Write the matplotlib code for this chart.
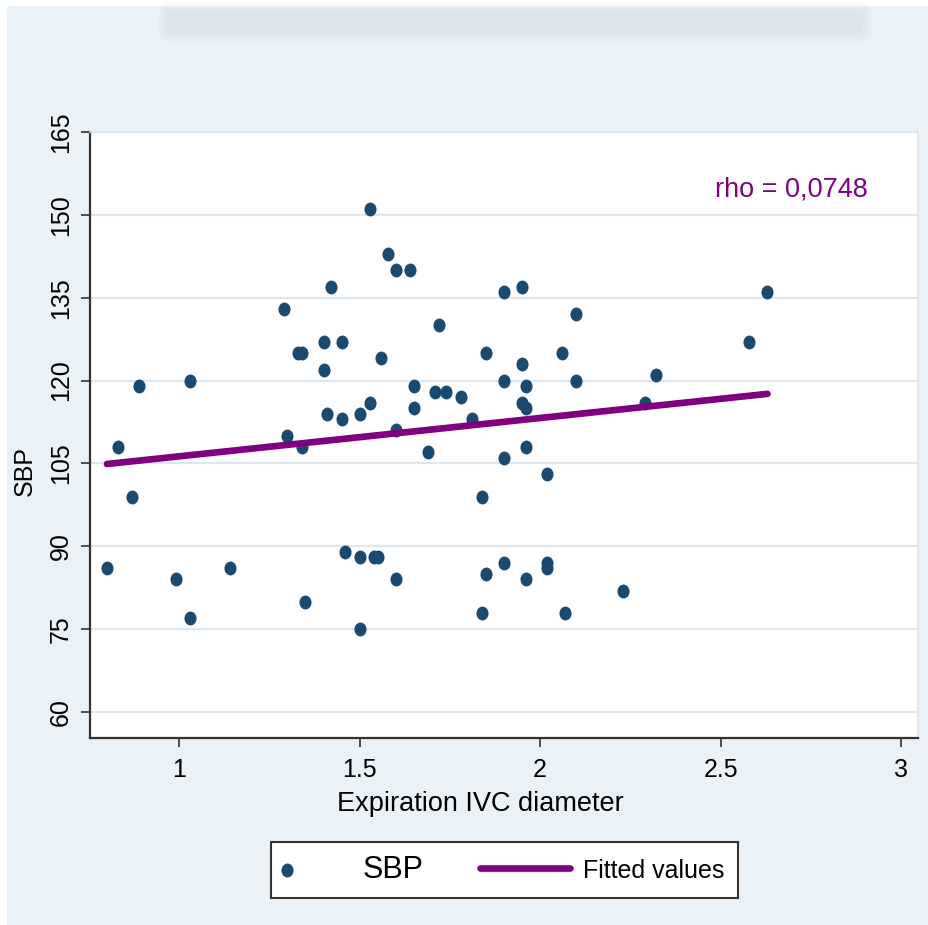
import matplotlib
matplotlib.use("Agg")
import matplotlib.pyplot as plt
from matplotlib.path import Path
from matplotlib.patches import Rectangle, FancyBboxPatch
from matplotlib.legend_handler import HandlerPathCollection, HandlerLine2D
import numpy as np

# values
ivc_diam = [0.80, 0.83, 0.87, 0.89, 0.99, 1.03, 1.03, 1.14, 1.29, 1.30,
            1.33, 1.34, 1.34, 1.35, 1.40, 1.40, 1.42, 1.41, 1.45, 1.45,
            1.46, 1.50, 1.50, 1.50, 1.53, 1.53, 1.54, 1.55, 1.56, 1.58,
            1.60, 1.60, 1.60, 1.64, 1.65, 1.65, 1.69, 1.72, 1.71, 1.74,
            1.78, 1.81, 1.84, 1.84, 1.85, 1.85, 1.90, 1.90, 1.90, 1.90,
            1.95, 1.95, 1.95, 1.96, 1.96, 1.96, 1.96, 2.02, 2.02, 2.02,
            2.06, 2.07, 2.10, 2.10, 2.23, 2.29, 2.32, 2.58, 2.63]
sbp = [86, 108, 99, 119, 84, 120, 77, 86, 133, 110,
       125, 125, 108, 80, 127, 122, 137, 114, 127, 113,
       89, 114, 88, 75, 151, 116, 88, 88, 124, 143,
       140, 111, 84, 140, 119, 115, 107, 130, 118, 118,
       117, 113, 99, 78, 125, 85, 136, 120, 106, 87,
       137, 123, 116, 119, 115, 108, 84, 103, 87, 86,
       125, 78, 132, 120, 82, 116, 121, 127, 136]

fit_x = [0.80, 2.63]
fit_y = [104.9, 117.6]

x_ticks = [1, 1.5, 2, 2.5, 3]
x_ticklabels = ["1", "1.5", "2", "2.5", "3"]
y_ticks = [60, 75, 90, 105, 120, 135, 150, 165]

rho_text = "rho = 0,0748"

DOT = "#1b4a70"
PURPLE = "#800080"
FONT = ["Liberation Sans", "DejaVu Sans"]


class LeftDotHandler(HandlerPathCollection):
    # legend dot sits at the left end of its handle box
    def get_xdata(self, legend, xdescent, ydescent, width, height, fontsize):
        x = [-xdescent + 0.05 * width]
        return x, x


class LongLineHandler(HandlerLine2D):
    # line sample reaches a bit past its handle box on the left
    def get_xdata(self, legend, xdescent, ydescent, width, height, fontsize):
        xdata = np.array([-xdescent - 18.0, -xdescent + width + 5.0])
        return xdata, np.array([-xdescent + 0.5 * width])


fig = plt.figure(figsize=(9.29, 9.25), dpi=100, facecolor="white")
fig.patches.append(Rectangle((7 / 929, 0), 1, 1 - 6 / 925, transform=fig.transFigure,
                             fc="#eaf2f7", ec="none", zorder=-10))
# soft grey smudge along the top edge
for grow, alpha in [(0.012, 0.18), (0.007, 0.25), (0.003, 0.35)]:
    fig.patches.append(FancyBboxPatch((170 / 929, 1 - 30 / 925), 690 / 929, 16 / 925,
                                      boxstyle="round,pad=%g" % grow, transform=fig.transFigure,
                                      fc="#d3dbe4", ec="none", alpha=alpha, zorder=-9))

ax = fig.add_axes([90 / 929, 1 - 738 / 925, 828 / 929, 606 / 925])
ax.set_facecolor("white")

circ = Path.unit_circle()
dot = Path(circ.vertices * [0.87, 1.0], circ.codes)

sc = ax.scatter(ivc_diam, sbp, s=100, marker=dot, color=DOT, linewidths=0, zorder=3, label="SBP")
ln, = ax.plot(fit_x, fit_y, color=PURPLE, lw=4.8, solid_capstyle="round", zorder=4,
              label="Fitted values")

ax.set_xlim(0.753, 3.047)
ax.set_ylim(55.3, 165)
ax.set_xticks(x_ticks)
ax.set_xticklabels(x_ticklabels)
ax.set_yticks(y_ticks)
ax.grid(axis="y", color="#dce7ef", lw=1.6, zorder=0)
ax.set_axisbelow(True)

for side in ["left", "bottom"]:
    ax.spines[side].set_color("#333333")
    ax.spines[side].set_linewidth(1.6)
for side in ["top", "right"]:
    ax.spines[side].set_color("#dde4ea")
    ax.spines[side].set_linewidth(1.2)

ax.tick_params(axis="both", direction="out", length=6.5, width=1.2, color="#333333")
ax.tick_params(axis="x", pad=8, labelsize=18)
ax.tick_params(axis="y", pad=6, labelsize=18)
for t in ax.get_xticklabels():
    t.set_fontfamily(FONT)
for t in ax.get_yticklabels():
    t.set_fontfamily(FONT)
    t.set_rotation(90)
    t.set_verticalalignment("center")

ax.set_xlabel("Expiration IVC diameter", fontsize=19.5, family=FONT)
ax.xaxis.set_label_coords(0.4716, -0.088)
ax.set_ylabel("SBP", fontsize=18, family=FONT)
ax.yaxis.set_label_coords(-0.064, 0.44)

ax.text(0.8466, 0.893, rho_text, transform=ax.transAxes, color=PURPLE,
        fontsize=19.5, family=FONT, ha="center", va="baseline")

leg = ax.legend(handles=[sc, ln], loc="center", bbox_to_anchor=(504.5 / 929, 1 - 870 / 925),
                bbox_transform=fig.transFigure, ncol=2, fontsize=21, frameon=True,
                fancybox=False, framealpha=1, edgecolor="#333333", borderpad=0.45,
                handlelength=2.0, handletextpad=0.68, columnspacing=2.8, scatterpoints=1,
                handler_map={sc: LeftDotHandler(), ln: LongLineHandler()})
leg.get_frame().set_linewidth(1.5)
txt_sbp, txt_fit = leg.get_texts()
txt_sbp.set_fontfamily(FONT)
txt_sbp.set_fontsize(22)
txt_fit.set_fontfamily(FONT)
txt_fit.set_fontsize(18)

fig.savefig("out.png", dpi=100, facecolor=fig.get_facecolor())
